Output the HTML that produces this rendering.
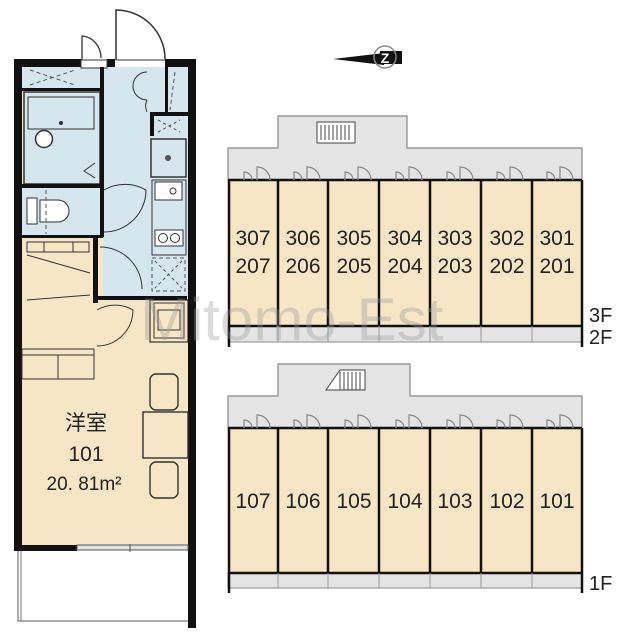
<!DOCTYPE html>
<html><head><meta charset="utf-8"><style>
html,body{margin:0;padding:0;background:#fff;width:627px;height:640px;overflow:hidden}
svg{display:block}
text{font-family:"Liberation Sans","Noto Sans CJK JP",sans-serif;fill:#222}
</style></head><body>
<svg width="627" height="640" viewBox="0 0 627 640" xmlns="http://www.w3.org/2000/svg">
<rect x="18" y="548" width="172" height="73" fill="#fff" stroke="#777" stroke-width="1.2"/>
<line x1="21" y1="548" x2="21" y2="621" stroke="#777"/>
<rect x="22" y="67" width="166" height="478" fill="#f6e6c6"/>
<rect x="22" y="67" width="80" height="23" fill="#d6e6ee"/>
<rect x="103" y="67" width="85" height="233" fill="#d6e6ee"/>
<rect x="24" y="92" width="76" height="92" fill="#d6e6ee" stroke="#333" stroke-width="1.5"/>
<rect x="22" y="188" width="80" height="47" fill="#d6e6ee"/>
<rect x="150" y="300" width="38" height="42" fill="#f6e6c6" stroke="#333" stroke-width="1.2"/>
<rect x="14" y="59" width="8" height="491" fill="#111"/>
<rect x="188" y="59" width="8" height="569" fill="#111"/>
<rect x="14" y="59" width="67" height="8" fill="#111"/>
<rect x="107" y="59" width="8" height="8" fill="#111"/>
<rect x="165" y="59" width="31" height="8" fill="#111"/>
<rect x="14" y="545" width="63" height="6" fill="#111"/>
<rect x="77" y="545" width="111" height="5" fill="#dbe3e8" stroke="#555" stroke-width="1"/>
<line x1="130" y1="544" x2="130" y2="552" stroke="#555"/>
<rect x="81" y="60" width="26" height="8" fill="#fff" stroke="#333"/>
<path d="M82 60 V36 A20 22 0 0 1 101 58" fill="none" stroke="#333" stroke-width="1.3"/>
<path d="M116 60 V10 A49 49 0 0 1 165 59" fill="none" stroke="#333" stroke-width="1.5"/>
<line x1="116" y1="60" x2="165" y2="60" stroke="#333"/>
<rect x="22" y="88" width="81" height="3" fill="#111"/>
<rect x="100" y="67" width="4" height="170" fill="#111"/>
<rect x="22" y="184" width="81" height="4" fill="#111"/>
<rect x="22" y="235" width="81" height="3" fill="#111"/>
<rect x="93" y="237" width="5" height="66" fill="#111"/>
<rect x="97" y="296" width="90" height="4" fill="#111"/>
<rect x="150" y="112" width="38" height="4" fill="#111"/>
<rect x="150" y="112" width="4" height="24" fill="#111"/>
<rect x="165" y="67" width="3" height="45" fill="#111"/>
<path d="M30 70 L75 85 M30 85 L75 70" stroke="#555" stroke-dasharray="4 3" fill="none"/>
<path d="M175 72 L170 110" stroke="#555" stroke-dasharray="4 3"/>
<path d="M158 120 L180 132 M158 132 L180 120" stroke="#555" stroke-dasharray="3 3"/>
<rect x="152" y="258" width="33" height="33" fill="none" stroke="#555" stroke-dasharray="4 3"/>
<path d="M155 261 L182 288 M182 261 L155 288" stroke="#555" stroke-dasharray="3 3"/>
<rect x="28" y="97" width="66" height="32" fill="#d6e6ee" stroke="#333"/>
<circle cx="61" cy="123" r="2" fill="#333"/>
<circle cx="44" cy="139" r="8.5" fill="#fff" stroke="#333" stroke-width="1.5"/>
<path d="M95 163 L84 171 L95 178" fill="none" stroke="#333"/>
<path d="M147 72 A14 14 0 0 0 147 100 M147 100 A14 14 0 0 0 147 112" fill="none" stroke="#333"/>
<path d="M104 190 A42 42 0 0 1 146 190 A42 42 0 0 1 104 232" fill="none" stroke="#333"/>
<path d="M100 247 A42 42 0 0 1 142 289" fill="none" stroke="#333"/>
<path d="M97 310 A36 36 0 0 1 133 310 A36 36 0 0 1 97 346" fill="none" stroke="#333"/>
<path d="M40 200 H58 A11 11 0 0 1 58 222 H40 Z" fill="#fff" stroke="#333"/>
<rect x="27" y="198" width="10" height="26" fill="#fff" stroke="#333"/>
<line x1="46" y1="190" x2="46" y2="234" stroke="#555" stroke-dasharray="4 3"/>
<rect x="151" y="139" width="35" height="38" fill="#d6e6ee" stroke="#333" stroke-width="1.5"/>
<circle cx="168" cy="158" r="3" fill="#555"/>
<rect x="152" y="180" width="34" height="75" fill="#d6e6ee" stroke="#333"/>
<rect x="155" y="182" width="27" height="18" fill="#fff" stroke="#333"/>
<circle cx="173" cy="191" r="3" fill="none" stroke="#333"/>
<rect x="155" y="230" width="28" height="16" fill="#fff" stroke="#333"/>
<circle cx="163" cy="238" r="4.5" fill="none" stroke="#333"/>
<circle cx="175" cy="238" r="4.5" fill="none" stroke="#333"/>
<rect x="27" y="242" width="62" height="10" fill="none" stroke="#333"/>
<line x1="44" y1="242" x2="44" y2="252" stroke="#333"/>
<line x1="73" y1="242" x2="73" y2="252" stroke="#333"/>
<path d="M27 255 L90 273 M27 300 L90 295" stroke="#333"/>
<rect x="22" y="349" width="72" height="30" fill="none" stroke="#333"/>
<line x1="58" y1="355" x2="58" y2="379" stroke="#333"/>
<line x1="22" y1="355" x2="94" y2="355" stroke="#333"/>
<rect x="154" y="303" width="30" height="35" fill="none" stroke="#333"/>
<rect x="158" y="310" width="22" height="20" fill="none" stroke="#333"/>
<rect x="150" y="374" width="28" height="36" rx="6" fill="#f6e6c6" stroke="#333" stroke-width="1.4"/>
<rect x="143" y="412" width="45" height="46" fill="#f6e6c6" stroke="#333" stroke-width="1.4"/>
<rect x="150" y="462" width="28" height="36" rx="6" fill="#f6e6c6" stroke="#333" stroke-width="1.4"/>
<text x="86" y="430" font-size="21" text-anchor="middle">洋室</text>
<text x="86" y="461" font-size="21" text-anchor="middle">101</text>
<text x="84" y="490" font-size="19" text-anchor="middle">20. 81m²</text>

<path d="M333 59 L384 53 L384 65 Z" fill="#111"/>
<rect x="380" y="51" width="22" height="13" fill="#111"/>
<circle cx="385" cy="57" r="11" fill="none" stroke="#888" stroke-width="1.5"/>
<text x="385" y="63" font-size="14" font-weight="bold" text-anchor="middle" style="fill:#fff">Z</text>

<path d="M228 148 H278 V116 H407 V148 H582 V180 H228 Z" fill="#e4e4e4" stroke="#888" stroke-width="1.2"/>
<rect x="317" y="122" width="38" height="21" fill="#fff" stroke="#444"/>
<path d="M321 125 V140 M325 125 V140 M329 125 V140 M333 125 V140 M337 125 V140 M341 125 V140 M345 125 V140 M349 125 V140" stroke="#444"/>
<rect x="228" y="180" width="354" height="146" fill="#f6e6c6"/>
<rect x="228" y="326" width="354" height="16" fill="#e4e4e4" stroke="#888"/>
<g stroke="#111" stroke-width="2.5">
<line x1="228" y1="180" x2="582" y2="180"/>
<line x1="228" y1="326" x2="582" y2="326"/>
<line x1="229" y1="180" x2="229" y2="347"/>
<line x1="582" y1="180" x2="582" y2="347"/>
<line x1="278" y1="180" x2="278" y2="326"/><line x1="328" y1="180" x2="328" y2="326"/>
<line x1="379" y1="180" x2="379" y2="326"/><line x1="430" y1="180" x2="430" y2="326"/>
<line x1="481" y1="180" x2="481" y2="326"/><line x1="532" y1="180" x2="532" y2="326"/>
</g>
<g stroke="#999" stroke-width="1"><line x1="278" y1="326" x2="278" y2="342"/><line x1="328" y1="326" x2="328" y2="342"/><line x1="379" y1="326" x2="379" y2="342"/><line x1="430" y1="326" x2="430" y2="342"/><line x1="481" y1="326" x2="481" y2="342"/><line x1="532" y1="326" x2="532" y2="342"/></g>
<g fill="none" stroke="#888" stroke-width="1.2">
<path d="M244 180 V172 A8 8 0 0 1 252 180 M257 180 V167 A13 13 0 0 1 270 180"/>
<path d="M294 180 V172 A8 8 0 0 1 302 180 M307 180 V167 A13 13 0 0 1 320 180"/>
<path d="M345 180 V172 A8 8 0 0 1 353 180 M358 180 V167 A13 13 0 0 1 371 180"/>
<path d="M396 180 V172 A8 8 0 0 1 404 180 M409 180 V167 A13 13 0 0 1 422 180"/>
<path d="M447 180 V172 A8 8 0 0 1 455 180 M460 180 V167 A13 13 0 0 1 473 180"/>
<path d="M497 180 V172 A8 8 0 0 1 505 180 M510 180 V167 A13 13 0 0 1 523 180"/>
<path d="M547 180 V172 A8 8 0 0 1 555 180 M560 180 V167 A13 13 0 0 1 573 180"/>
</g>
<g font-size="21" text-anchor="middle">
<text x="253" y="245">307</text><text x="303" y="245">306</text><text x="354" y="245">305</text><text x="405" y="245">304</text><text x="455" y="245">303</text><text x="507" y="245">302</text><text x="557" y="245">301</text>
<text x="253" y="273">207</text><text x="303" y="273">206</text><text x="354" y="273">205</text><text x="405" y="273">204</text><text x="455" y="273">203</text><text x="507" y="273">202</text><text x="557" y="273">201</text>
</g>
<text x="589" y="322" font-size="20">3F</text>
<text x="589" y="344" font-size="20">2F</text>

<path d="M228 396 H278 V364 H410 V396 H582 V428 H228 Z" fill="#e4e4e4" stroke="#888" stroke-width="1.2"/>
<path d="M326 390 L340 370 H365 V390 Z" fill="#fff" stroke="#444"/>
<path d="M340 372 V390 M344 372 V390 M348 372 V390 M352 372 V390 M356 372 V390 M360 372 V390" stroke="#444"/>
<rect x="228" y="428" width="354" height="145" fill="#f6e6c6"/>
<rect x="228" y="573" width="354" height="15" fill="#e4e4e4" stroke="#888"/>
<g stroke="#111" stroke-width="2.5">
<line x1="228" y1="428" x2="582" y2="428"/>
<line x1="228" y1="573" x2="582" y2="573"/>
<line x1="229" y1="428" x2="229" y2="593"/>
<line x1="582" y1="428" x2="582" y2="593"/>
<line x1="278" y1="428" x2="278" y2="573"/><line x1="328" y1="428" x2="328" y2="573"/>
<line x1="379" y1="428" x2="379" y2="573"/><line x1="430" y1="428" x2="430" y2="573"/>
<line x1="481" y1="428" x2="481" y2="573"/><line x1="532" y1="428" x2="532" y2="573"/>
</g>
<g stroke="#999" stroke-width="1"><line x1="278" y1="573" x2="278" y2="588"/><line x1="328" y1="573" x2="328" y2="588"/><line x1="379" y1="573" x2="379" y2="588"/><line x1="430" y1="573" x2="430" y2="588"/><line x1="481" y1="573" x2="481" y2="588"/><line x1="532" y1="573" x2="532" y2="588"/></g>
<g fill="none" stroke="#888" stroke-width="1.2">
<path d="M244 428 V420 A8 8 0 0 1 252 428 M257 428 V415 A13 13 0 0 1 270 428"/>
<path d="M294 428 V420 A8 8 0 0 1 302 428 M307 428 V415 A13 13 0 0 1 320 428"/>
<path d="M345 428 V420 A8 8 0 0 1 353 428 M358 428 V415 A13 13 0 0 1 371 428"/>
<path d="M396 428 V420 A8 8 0 0 1 404 428 M409 428 V415 A13 13 0 0 1 422 428"/>
<path d="M447 428 V420 A8 8 0 0 1 455 428 M460 428 V415 A13 13 0 0 1 473 428"/>
<path d="M497 428 V420 A8 8 0 0 1 505 428 M510 428 V415 A13 13 0 0 1 523 428"/>
<path d="M547 428 V420 A8 8 0 0 1 555 428 M560 428 V415 A13 13 0 0 1 573 428"/>
</g>
<g font-size="21" text-anchor="middle">
<text x="253" y="508">107</text><text x="303" y="508">106</text><text x="354" y="508">105</text><text x="405" y="508">104</text><text x="455" y="508">103</text><text x="507" y="508">102</text><text x="557" y="508">101</text>
</g>
<text x="589" y="590" font-size="20">1F</text>

<text x="140" y="340" font-size="60" style="fill:#999;opacity:0.35">Mitomo-Est</text>
</svg>
</body></html>
